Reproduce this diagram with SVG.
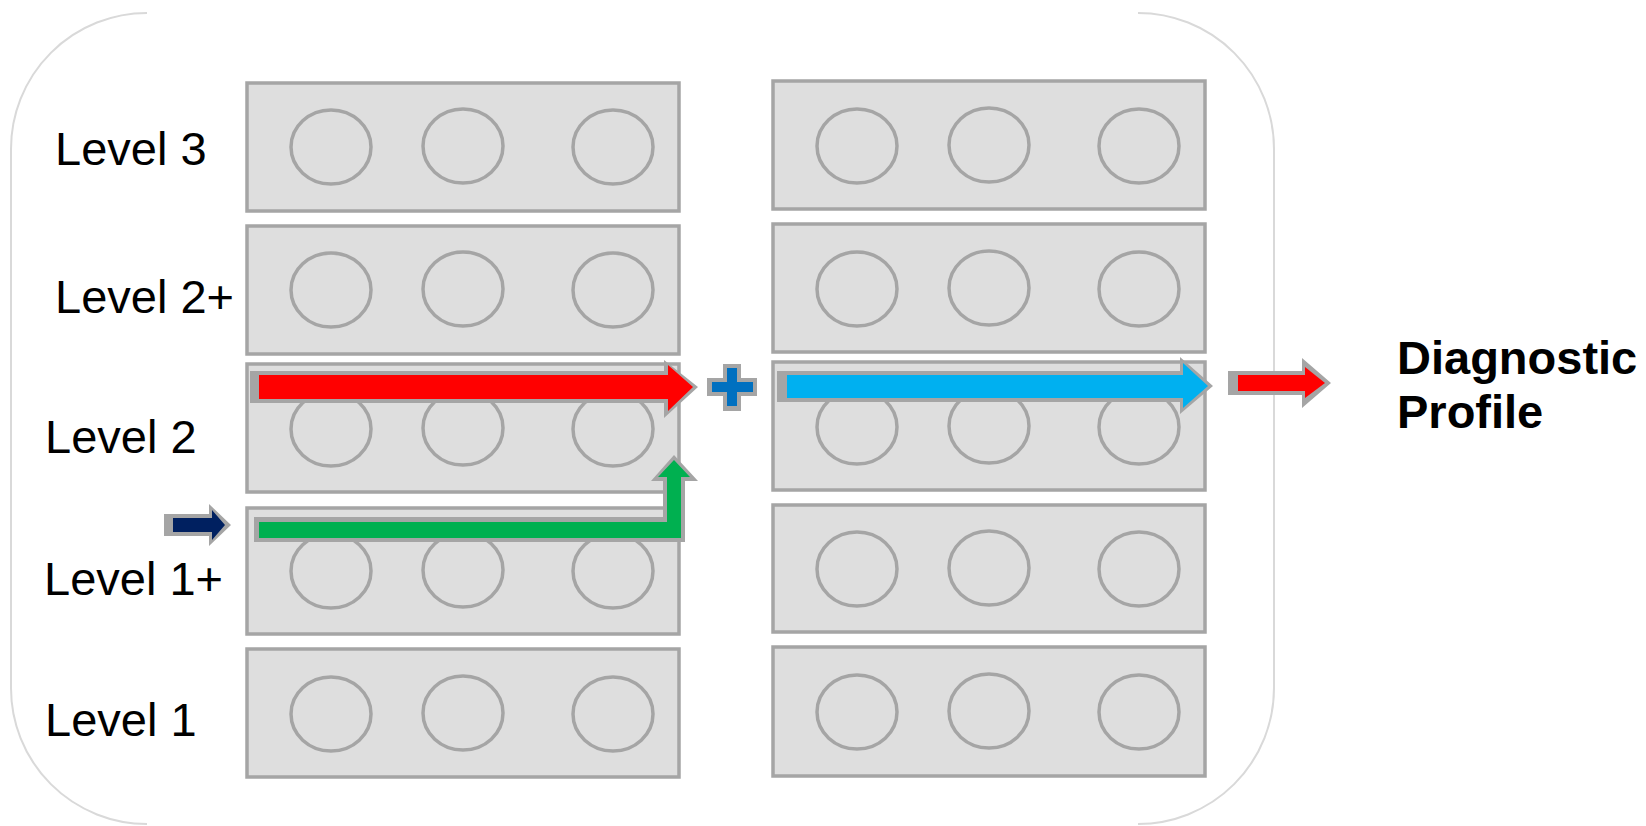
<svg xmlns="http://www.w3.org/2000/svg" width="1646" height="826" viewBox="0 0 1646 826">
<style>
.frame{fill:none;stroke:#d9d9d9;stroke-width:2}
.box{fill:#dedede;stroke:#a5a5a5;stroke-width:3.5}
.dot{fill:none;stroke:#a5a5a5;stroke-width:3.5}
.lbl{font-family:"Liberation Sans",Arial,sans-serif;font-size:47px;fill:#000}
.out{font-family:"Liberation Sans",Arial,sans-serif;font-size:47px;font-weight:bold;fill:#000}
.edge{fill:#a5a5a5}
</style>
<rect width="1646" height="826" fill="#fff"/>
<g id="frame">
<path class="frame" d="M147,13 A136,136 0 0 0 11,149 L11,688 A136,136 0 0 0 147,824"/>
<path class="frame" d="M1138,13 A136,136 0 0 1 1274,149 L1274,688 A136,136 0 0 1 1138,824"/>
</g>
<g id="labels">
<text class="lbl" x="55" y="165">Level 3</text>
<text class="lbl" x="55" y="313">Level 2+</text>
<text class="lbl" x="45" y="453">Level 2</text>
<text class="lbl" x="44" y="595">Level 1+</text>
<text class="lbl" x="45" y="736">Level 1</text>
</g>
<g id="left-level3">
<rect class="box" x="247" y="83" width="432" height="128"/>
<ellipse class="dot" cx="331" cy="147" rx="40" ry="37"/>
<ellipse class="dot" cx="463" cy="146" rx="40" ry="37"/>
<ellipse class="dot" cx="613" cy="147" rx="40" ry="37"/>
</g>
<g id="left-level2plus">
<rect class="box" x="247" y="226" width="432" height="128"/>
<ellipse class="dot" cx="331" cy="290" rx="40" ry="37"/>
<ellipse class="dot" cx="463" cy="289" rx="40" ry="37"/>
<ellipse class="dot" cx="613" cy="290" rx="40" ry="37"/>
</g>
<g id="left-level2">
<rect class="box" x="247" y="364" width="432" height="128"/>
<ellipse class="dot" cx="331" cy="429" rx="40" ry="37"/>
<ellipse class="dot" cx="463" cy="428" rx="40" ry="37"/>
<ellipse class="dot" cx="613" cy="429" rx="40" ry="37"/>
</g>
<g id="left-level1plus">
<rect class="box" x="247" y="508" width="432" height="126"/>
<ellipse class="dot" cx="331" cy="571" rx="40" ry="37"/>
<ellipse class="dot" cx="463" cy="570" rx="40" ry="37"/>
<ellipse class="dot" cx="613" cy="571" rx="40" ry="37"/>
</g>
<g id="left-level1">
<rect class="box" x="247" y="649" width="432" height="128"/>
<ellipse class="dot" cx="331" cy="714" rx="40" ry="37"/>
<ellipse class="dot" cx="463" cy="713" rx="40" ry="37"/>
<ellipse class="dot" cx="613" cy="714" rx="40" ry="37"/>
</g>
<g id="right-level3">
<rect class="box" x="773" y="81" width="432" height="128"/>
<ellipse class="dot" cx="857" cy="146" rx="40" ry="37"/>
<ellipse class="dot" cx="989" cy="145" rx="40" ry="37"/>
<ellipse class="dot" cx="1139" cy="146" rx="40" ry="37"/>
</g>
<g id="right-level2plus">
<rect class="box" x="773" y="224" width="432" height="128"/>
<ellipse class="dot" cx="857" cy="289" rx="40" ry="37"/>
<ellipse class="dot" cx="989" cy="288" rx="40" ry="37"/>
<ellipse class="dot" cx="1139" cy="289" rx="40" ry="37"/>
</g>
<g id="right-level2">
<rect class="box" x="773" y="362" width="432" height="128"/>
<ellipse class="dot" cx="857" cy="427" rx="40" ry="37"/>
<ellipse class="dot" cx="989" cy="426" rx="40" ry="37"/>
<ellipse class="dot" cx="1139" cy="427" rx="40" ry="37"/>
</g>
<g id="right-level1plus">
<rect class="box" x="773" y="505" width="432" height="127"/>
<ellipse class="dot" cx="857" cy="569" rx="40" ry="37"/>
<ellipse class="dot" cx="989" cy="568" rx="40" ry="37"/>
<ellipse class="dot" cx="1139" cy="569" rx="40" ry="37"/>
</g>
<g id="right-level1">
<rect class="box" x="773" y="647" width="432" height="129"/>
<ellipse class="dot" cx="857" cy="712" rx="40" ry="37"/>
<ellipse class="dot" cx="989" cy="711" rx="40" ry="37"/>
<ellipse class="dot" cx="1139" cy="712" rx="40" ry="37"/>
</g>
<g id="connectors">
<g id="arrow-navy">
<polygon class="edge" points="164,514 209,514 209,504 231,525 209,546 209,536 164,536"/>
<polygon fill="#002060" points="173,518 212,518 212,510 225,525 212,540 212,532 173,532"/>
</g>
<g id="arrow-green">
<polygon class="edge" points="254,517 663,517 663,481 651,481 674,455 698,481 685,481 685,542 254,542"/>
<polygon fill="#00b050" points="259,522 667,522 667,477 658,477 674,460 690,477 681,477 681,538 259,538"/>
</g>
<g id="arrow-red">
<polygon class="edge" points="250,371 664,371 664,360 698,387 664,418 664,403 250,403"/>
<polygon fill="#ff0000" points="259,375 668,375 668,365 693,387 668,411 668,399 259,399"/>
</g>
<g id="plus">
<polygon class="edge" points="723,364 741,364 741,378 757,378 757,396 741,396 741,411 723,411 723,396 707,396 707,378 723,378"/>
<polygon fill="#0070c0" points="727,368 737,368 737,382 753,382 753,392 737,392 737,406 727,406 727,392 712,392 712,382 727,382"/>
</g>
<g id="arrow-blue">
<polygon class="edge" points="777,371 1180,371 1180,357 1213,386 1180,414 1180,402 777,402"/>
<polygon fill="#00b0f0" points="787,375 1183,375 1183,363 1208,386 1183,408 1183,398 787,398"/>
</g>
<g id="arrow-out">
<polygon class="edge" points="1228,371 1302,371 1302,358 1331,383 1302,408 1302,395 1228,395"/>
<polygon fill="#ff0000" points="1238,375 1305,375 1305,367 1325,383 1305,398 1305,391 1238,391"/>
</g>
</g>
<g id="result">
<text class="out" x="1397" y="374">Diagnostic</text>
<text class="out" x="1397" y="428">Profile</text>
</g>
</svg>
